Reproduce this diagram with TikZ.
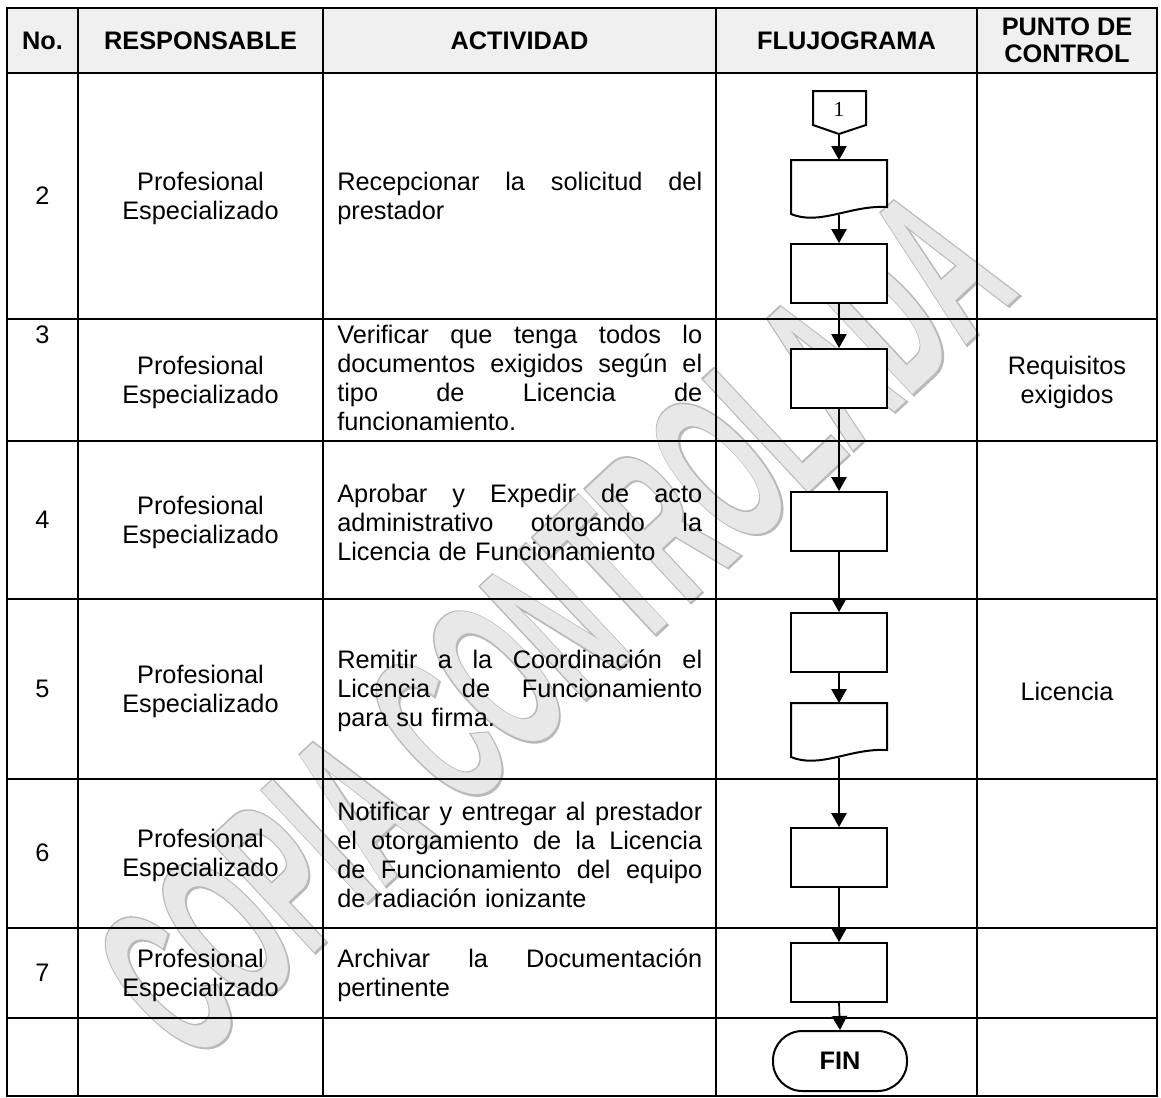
\documentclass[tikz,border=0pt]{standalone}
\usepackage{fontspec}
\setmainfont{Liberation Sans}
\newfontfamily\serifone{Liberation Serif}
\newfontface\wmfill{Liberation Sans Bold}
\newfontface\wmline[FakeBold=2]{Liberation Sans Bold}
\usetikzlibrary{arrows.meta}
\newcommand{\jline}[1]{\leavevmode\hbox to 273.75pt{\spaceskip=\fontdimen2\font plus 1fil\relax #1}}
\begin{document}
\begin{tikzpicture}[x=0.75pt,y=-0.75pt,
  gridline/.style={line width=2pt, line cap=rect},
  body/.style={font=\fontsize{19}{21.75}\selectfont, inner sep=0pt, align=center},
  head/.style={font=\fontsize{19}{20}\selectfont\bfseries, inner sep=0pt, align=center},
  act/.style={font=\fontsize{19}{21.75}\selectfont, inner sep=0pt, align=left, text width=273.75pt, anchor=west},
  box/.style={draw, fill=white, line width=1.5pt, minimum width=72pt, minimum height=44.25pt, inner sep=0pt, anchor=north},
  anch/.style={inner sep=0pt, minimum width=72pt, anchor=north},
  shapeline/.style={draw, fill=white, line width=1.5pt, line join=miter},
  arr/.style={line width=1.3pt, -{Triangle[width=11.5pt,length=10.5pt]}},
  docpic/.pic={\path[shapeline] (-48,0) -- (48,0) -- (48,47) .. controls (11,45) and (-19,66) .. (-48,54) -- cycle;},
  wm/.style={rotate=43, xscale=0.48, inner sep=0pt}
]
\useasboundingbox (0,0) rectangle (1161,1097);
% header background
\fill[gray!12] (7,8) rectangle (1157,73);
% watermark
\node[wm, text=gray!55, font=\wmline\fontsize{168}{168}\selectfont] (wmo) at (554,624) {COPIA CONTROLADA};
\node[wm, text=gray!18, font=\wmfill\fontsize{168}{168}\selectfont] (wmf) at (554,624) {COPIA CONTROLADA};
% table grid
\draw[gridline] (7,8) rectangle (1157,1096);
\foreach \xx in {78,323,716,977} \draw[gridline] (\xx,8) -- (\xx,1096);
\foreach \yy in {73,319,441,599,779,928,1018} \draw[gridline] (7,\yy) -- (1157,\yy);
% header
\node[head] (hno) at (42.5,40.5) {No.};
\node[head] (hresp) at (200.5,40.5) {RESPONSABLE};
\node[head] (hact) at (519.5,40.5) {ACTIVIDAD};
\node[head] (hflu) at (846.5,40.5) {FLUJOGRAMA};
\node[head] (hpc) at (1067,40.5) {PUNTO DE\\CONTROL};
% numbers
\node[body] (n2) at (42.5,196) {2};
\node[body] (n3) at (42.5,335) {3};
\node[body] (n4) at (42.5,520) {4};
\node[body] (n5) at (42.5,689) {5};
\node[body] (n6) at (42.5,853) {6};
\node[body] (n7) at (42.5,973) {7};
% responsables
\node[body] (r2) at (200.5,198) {Profesional\\Especializado};
\node[body] (r3) at (200.5,382) {Profesional\\Especializado};
\node[body] (r4) at (200.5,522) {Profesional\\Especializado};
\node[body] (r5) at (200.5,691) {Profesional\\Especializado};
\node[body] (r6) at (200.5,855) {Profesional\\Especializado};
\node[body] (r7) at (200.5,975) {Profesional\\Especializado};
% actividades
\node[act] (a2) at (337,198) {\jline{Recepcionar la solicitud del}\\prestador};
\node[act] (a3) at (337,378) {\jline{Verificar que tenga todos lo}\\\jline{documentos exigidos según el}\\\jline{tipo de Licencia de}\\funcionamiento.};
\node[act] (a4) at (337,522) {\jline{Aprobar y Expedir de acto}\\\jline{administrativo otorgando la}\\Licencia de Funcionamiento};
\node[act] (a5) at (337,691) {\jline{Remitir a la Coordinación el}\\\jline{Licencia de Funcionamiento}\\para su firma.};
\node[act] (a6) at (337,855) {\jline{Notificar y entregar al prestador}\\\jline{el otorgamiento de la Licencia}\\\jline{de Funcionamiento del equipo}\\de radiación ionizante};
\node[act] (a7) at (337,975) {\jline{Archivar la Documentación}\\pertinente};
% punto de control
\node[body] (p3) at (1067,382) {Requisitos\\exigidos};
\node[body] (p5) at (1067,691) {Licencia};
% flowchart
\path[shapeline] (813,91) -- (866,91) -- (866,125) -- (839,134) -- (813,125) -- cycle;
\node[inner sep=0pt, font=\serifone\fontsize{16}{16}\selectfont] (c1) at (839,109) {1};
\coordinate (c1tip) at (839,134);
\pic at (839,160) {docpic};
\node[anch, minimum height=40.5pt] (d1) at (839,160) {};
\node[box] (b2) at (839,243) {};
\node[box] (b3) at (839,348) {};
\node[box] (b4) at (839,491) {};
\node[box] (b5) at (839,612) {};
\pic at (839,703) {docpic};
\node[anch, minimum height=40.5pt] (d2) at (839,703) {};
\node[box] (b6) at (839,827) {};
\node[box] (b7) at (839,942) {};
\node[draw, fill=white, line width=1.5pt, minimum width=100.5pt, minimum height=45pt, rounded corners=22pt, anchor=north, inner sep=0pt, font=\fontsize{19}{20}\selectfont\bfseries] (fin) at (840,1030) {FIN};
% connectors
\draw[arr] (c1tip) -- (d1.north);
\draw[arr] (d1.south) -- (b2.north);
\draw[arr] (b2.south) -- (b3.north);
\draw[arr] (b3.south) -- (b4.north);
\draw[arr] (b4.south) -- (b5.north);
\draw[arr] (b5.south) -- (d2.north);
\draw[arr] (d2.south) -- (b6.north);
\draw[arr] (b6.south) -- (b7.north);
\draw[arr] (b7.south) -- (fin.north);
\end{tikzpicture}
\end{document}
